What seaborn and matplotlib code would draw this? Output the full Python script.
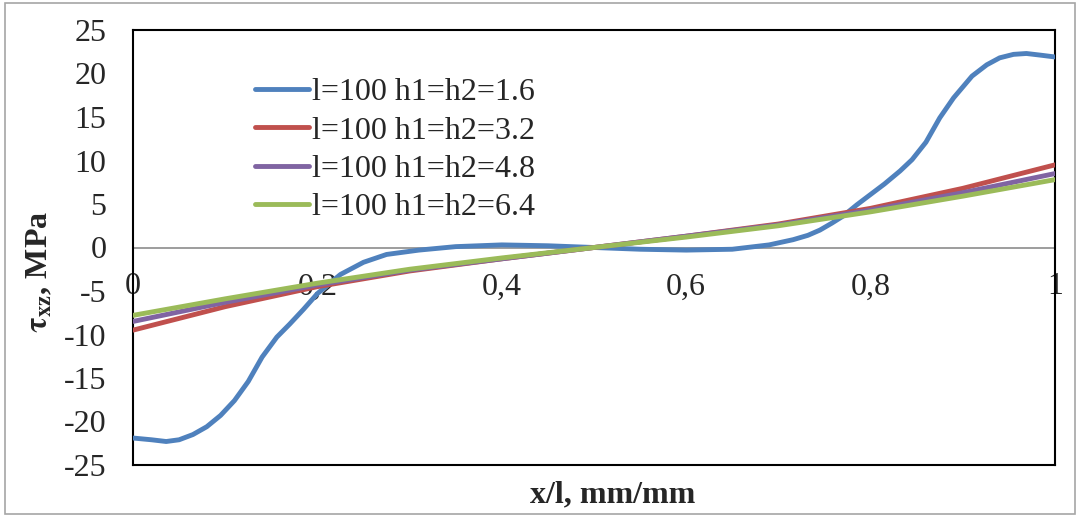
import numpy as np
import pandas as pd
import seaborn as sns
import matplotlib.pyplot as plt
from matplotlib.patches import Rectangle
from matplotlib.ticker import FuncFormatter

x_blue = [0, 0.02, 0.036, 0.05, 0.065, 0.08, 0.095, 0.11, 0.125, 0.14, 0.156, 0.17, 0.185, 0.2,
          0.225, 0.25, 0.275, 0.31, 0.35, 0.4, 0.45, 0.5, 0.55, 0.6, 0.65, 0.69, 0.716, 0.732,
          0.745, 0.758, 0.77, 0.785, 0.8, 0.815, 0.832, 0.845, 0.86, 0.875, 0.89, 0.91, 0.926,
          0.94, 0.955, 0.969, 0.985, 1.0]
tau_16 = [-21.9, -22.1, -22.3, -22.1, -21.5, -20.6, -19.3, -17.6, -15.4, -12.6, -10.3, -8.8, -7.1, -5.3,
          -3.1, -1.7, -0.8, -0.3, 0.1, 0.3, 0.2, 0, -0.2, -0.3, -0.2, 0.3, 0.9, 1.4,
          2.0, 2.8, 3.6, 4.9, 6.1, 7.3, 8.8, 10.1, 12.1, 14.9, 17.2, 19.7, 21,
          21.8, 22.2, 22.3, 22.1, 21.9]

x_lin = [0, 0.1, 0.2, 0.3, 0.4, 0.5, 0.6, 0.7, 0.8, 0.9, 1.0]
tau_32 = [-9.5, -6.8, -4.5, -2.7, -1.3, 0, 1.3, 2.7, 4.5, 6.8, 9.5]
tau_48 = [-8.5, -6.3, -4.3, -2.6, -1.3, 0, 1.3, 2.6, 4.3, 6.3, 8.5]
tau_64 = [-7.8, -5.9, -4.1, -2.5, -1.2, 0, 1.2, 2.5, 4.1, 5.9, 7.8]

labels = ['l=100 h1=h2=1.6', 'l=100 h1=h2=3.2', 'l=100 h1=h2=4.8', 'l=100 h1=h2=6.4']
colors = ['#4F81BD', '#C0504D', '#8064A2', '#9BBB59']

sns.set_style('white')
plt.rcParams['font.family'] = ['Liberation Serif', 'DejaVu Serif']
plt.rcParams['mathtext.fontset'] = 'stix'
plt.rcParams['axes.unicode_minus'] = False

fig = plt.figure(figsize=(10.8, 5.17), dpi=100)
ax = fig.add_axes([133 / 1080, 1 - 465 / 517, 922 / 1080, 435 / 517])
fig.add_artist(Rectangle((5 / 1080, 3 / 517), 1070 / 1080, 511 / 517, transform=fig.transFigure,
                         fill=False, edgecolor='#a6a6a6', linewidth=1.2))

ax.axhline(0, color='#8c8c8c', linewidth=1.2, zorder=1)

series = [(x_blue, tau_16), (x_lin, tau_32), (x_lin, tau_48), (x_lin, tau_64)]
for (xs, ys), lab, c in zip(series, labels, colors):
    sns.lineplot(x=xs, y=ys, ax=ax, color=c, linewidth=3.5, label=lab, zorder=3,
                 solid_capstyle='round', solid_joinstyle='round')

ax.set_xlim(0, 1)
ax.set_ylim(-25, 25)
ax.set_yticks(np.arange(-25, 26, 5))
ax.tick_params(axis='y', length=0, labelsize=23, pad=19)
ax.set_xticks([])
for s in ax.spines.values():
    s.set_color('black')
    s.set_linewidth(1.5)

# x tick labels sit under the zero line
sec = ax.secondary_xaxis(0.5)
sec.set_xticks([0, 0.2, 0.4, 0.6, 0.8, 1.0])
sec.xaxis.set_major_formatter(FuncFormatter(lambda v, p: f'{v:g}'.replace('.', ',')))
sec.xaxis.set_ticks_position('bottom')
sec.xaxis.set_tick_params(labelbottom=True, labeltop=False)
sec.tick_params(length=0, labelsize=23, pad=18)
for s in sec.spines.values():
    s.set_visible(False)

ax.set_xlabel('x/l, mm/mm', fontsize=23, fontweight='bold')
ax.xaxis.set_label_coords(0.52, -0.035)
ax.set_ylabel(r'$\mathbf{\tau_{xz}}$, MPa', fontsize=23, fontweight='bold')
ax.yaxis.set_label_coords(-0.085, 0.445)

ax.legend(loc='upper left', bbox_to_anchor=(0.132, 0.89), frameon=False, fontsize=23,
          handlelength=1.7, handletextpad=0.1, labelspacing=0.28, borderaxespad=0, borderpad=0)

fig.savefig('out.png', dpi=100)
